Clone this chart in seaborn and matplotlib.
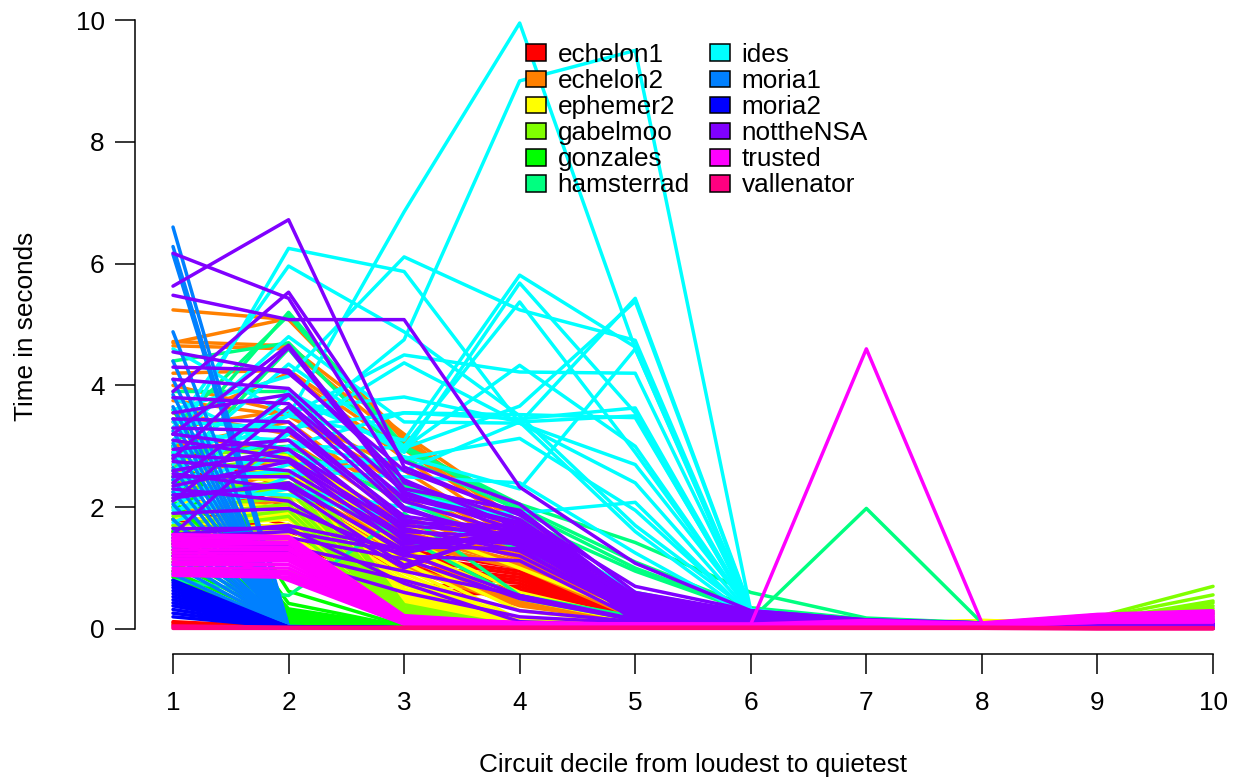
import pandas as pd
import matplotlib
matplotlib.use('Agg')
import matplotlib.pyplot as plt
from matplotlib.patches import Patch
import seaborn as sns

# Time per circuit decile, one row per relay
deciles = [1, 2, 3, 4, 5, 6, 7, 8, 9, 10]

echelon1 = [
    [0.12, 0.03, 0.02, 0.02, 0.02, 0.02, 0.02, 0.02, 0.02, 0.02],
    [0.10, 0.03, 0.02, 0.02, 0.02, 0.02, 0.02, 0.02, 0.02, 0.02],
    [0.07, 0.02, 0.02, 0.02, 0.02, 0.02, 0.02, 0.02, 0.02, 0.02],
    [3.0, 2.3, 1.3, 1.0, 0.2, 0.1, 0.06, 0.05, 0.05, 0.05],
    [2.7, 2.0, 1.2, 0.95, 0.16, 0.08, 0.06, 0.05, 0.05, 0.05],
    [2.5, 1.9, 1.15, 0.9, 0.14, 0.08, 0.05, 0.05, 0.05, 0.05],
    [2.2, 1.7, 1.05, 0.85, 0.12, 0.07, 0.05, 0.05, 0.05, 0.05],
    [2.0, 1.6, 1.0, 0.8, 0.12, 0.07, 0.05, 0.05, 0.05, 0.05],
    [1.8, 1.5, 0.95, 0.75, 0.1, 0.06, 0.05, 0.05, 0.05, 0.05],
    [1.6, 1.4, 0.72, 0.7, 0.1, 0.06, 0.05, 0.05, 0.05, 0.05],
    [1.4, 1.2, 0.62, 0.65, 0.1, 0.06, 0.05, 0.04, 0.04, 0.04],
    [1.9, 1.3, 0.55, 0.6, 0.09, 0.05, 0.04, 0.04, 0.04, 0.04],
]
echelon2 = [
    [5.24, 5.08, 3.15, 1.75, 0.5, 0.25, 0.16, 0.1, 0.1, 0.1],
    [4.72, 4.65, 3.2, 1.9, 0.45, 0.22, 0.15, 0.1, 0.1, 0.1],
    [4.7, 5.1, 3.1, 1.7, 0.42, 0.2, 0.14, 0.1, 0.1, 0.1],
    [4.65, 4.6, 3.05, 1.6, 0.4, 0.2, 0.13, 0.09, 0.1, 0.1],
    [4.2, 4.25, 2.95, 1.65, 0.38, 0.18, 0.12, 0.09, 0.09, 0.09],
    [3.4, 4.2, 2.8, 1.5, 0.35, 0.18, 0.12, 0.09, 0.09, 0.09],
    [4.0, 3.55, 2.6, 1.42, 0.33, 0.17, 0.11, 0.08, 0.09, 0.09],
    [3.75, 3.5, 2.4, 1.38, 0.3, 0.16, 0.1, 0.08, 0.08, 0.08],
    [3.3, 3.6, 2.3, 1.34, 0.3, 0.15, 0.1, 0.08, 0.08, 0.08],
    [3.55, 3.2, 2.15, 1.3, 0.28, 0.15, 0.1, 0.08, 0.08, 0.08],
    [3.0, 3.4, 2.0, 1.25, 0.26, 0.14, 0.09, 0.07, 0.08, 0.08],
    [2.9, 3.1, 1.85, 1.2, 0.25, 0.13, 0.09, 0.07, 0.07, 0.07],
    [3.2, 2.9, 1.75, 1.15, 0.24, 0.13, 0.09, 0.07, 0.07, 0.07],
    [2.7, 2.85, 1.6, 1.1, 0.22, 0.12, 0.08, 0.07, 0.07, 0.07],
    [2.6, 2.75, 1.55, 1.05, 0.2, 0.12, 0.08, 0.06, 0.07, 0.07],
    [2.4, 2.6, 1.45, 1.02, 0.2, 0.11, 0.08, 0.06, 0.06, 0.06],
    [2.8, 2.5, 1.4, 1.0, 0.18, 0.11, 0.07, 0.06, 0.06, 0.06],
    [2.3, 2.4, 1.3, 0.55, 0.18, 0.1, 0.07, 0.06, 0.06, 0.06],
    [2.1, 2.6, 1.25, 0.5, 0.16, 0.1, 0.07, 0.05, 0.06, 0.06],
    [2.5, 2.3, 1.15, 0.46, 0.15, 0.1, 0.06, 0.05, 0.05, 0.05],
    [1.9, 2.2, 1.05, 0.42, 0.14, 0.09, 0.06, 0.05, 0.05, 0.05],
    [2.0, 2.1, 1.0, 0.38, 0.12, 0.08, 0.06, 0.05, 0.05, 0.05],
]
ephemer2 = [
    [3.1, 2.85, 1.7, 1.0, 0.25, 0.1, 0.08, 0.14, 0.1, 0.1],
    [2.95, 2.7, 1.5, 0.6, 0.16, 0.09, 0.08, 0.14, 0.1, 0.1],
    [2.8, 2.55, 1.35, 0.5, 0.12, 0.08, 0.07, 0.13, 0.1, 0.1],
    [2.65, 2.4, 1.2, 0.3, 0.1, 0.08, 0.07, 0.13, 0.09, 0.09],
    [2.5, 2.3, 1.1, 0.15, 0.08, 0.07, 0.06, 0.12, 0.09, 0.09],
    [2.4, 2.2, 1.0, 0.1, 0.07, 0.06, 0.06, 0.12, 0.09, 0.09],
    [2.25, 2.1, 0.92, 0.08, 0.06, 0.06, 0.06, 0.11, 0.08, 0.08],
    [2.1, 2.0, 0.85, 0.07, 0.05, 0.05, 0.05, 0.1, 0.08, 0.08],
    [2.0, 1.95, 0.78, 0.06, 0.05, 0.05, 0.05, 0.08, 0.07, 0.07],
    [1.9, 1.9, 0.72, 0.06, 0.05, 0.05, 0.05, 0.07, 0.07, 0.07],
    [1.8, 1.85, 0.66, 0.05, 0.04, 0.04, 0.04, 0.06, 0.06, 0.06],
    [1.7, 1.8, 0.6, 0.05, 0.04, 0.04, 0.04, 0.06, 0.06, 0.06],
    [1.6, 1.72, 0.55, 0.05, 0.04, 0.04, 0.04, 0.05, 0.05, 0.05],
    [1.5, 1.65, 0.5, 0.04, 0.04, 0.04, 0.04, 0.05, 0.05, 0.05],
    [1.4, 1.55, 0.45, 0.04, 0.03, 0.03, 0.03, 0.05, 0.05, 0.05],
    [1.35, 1.45, 0.4, 0.04, 0.03, 0.03, 0.03, 0.04, 0.04, 0.04],
    [1.3, 1.35, 0.35, 0.04, 0.03, 0.03, 0.03, 0.04, 0.04, 0.04],
    [1.25, 1.3, 0.3, 0.03, 0.03, 0.03, 0.03, 0.04, 0.04, 0.04],
    [1.2, 1.25, 0.25, 0.03, 0.03, 0.03, 0.03, 0.03, 0.03, 0.03],
    [1.15, 1.2, 0.2, 0.03, 0.03, 0.03, 0.03, 0.03, 0.03, 0.03],
]
gabelmoo = [
    [2.9, 2.9, 0.4, 0.03, 0.03, 0.03, 0.03, 0.1, 0.2, 0.7],
    [2.6, 2.8, 0.35, 0.03, 0.03, 0.03, 0.03, 0.09, 0.18, 0.56],
    [2.45, 2.55, 0.32, 0.03, 0.03, 0.03, 0.03, 0.08, 0.14, 0.46],
    [2.3, 2.4, 0.3, 0.03, 0.03, 0.03, 0.03, 0.07, 0.12, 0.43],
    [2.15, 2.3, 0.28, 0.03, 0.03, 0.03, 0.03, 0.06, 0.1, 0.38],
    [2.0, 2.15, 0.25, 0.03, 0.03, 0.03, 0.03, 0.06, 0.1, 0.34],
    [1.85, 2.05, 0.22, 0.03, 0.03, 0.03, 0.03, 0.05, 0.09, 0.3],
    [1.7, 1.95, 0.2, 0.03, 0.03, 0.03, 0.03, 0.05, 0.08, 0.26],
    [1.6, 1.85, 0.18, 0.03, 0.03, 0.03, 0.03, 0.05, 0.08, 0.24],
    [1.45, 1.7, 0.16, 0.03, 0.03, 0.03, 0.03, 0.04, 0.07, 0.2],
    [1.3, 1.5, 0.14, 0.03, 0.03, 0.03, 0.03, 0.04, 0.06, 0.16],
    [1.2, 1.3, 0.12, 0.03, 0.03, 0.03, 0.03, 0.04, 0.05, 0.12],
    [1.1, 1.15, 0.1, 0.03, 0.03, 0.03, 0.03, 0.03, 0.04, 0.08],
    [0.95, 0.95, 0.08, 0.03, 0.03, 0.03, 0.03, 0.03, 0.03, 0.05],
]
gonzales = [
    [3.6, 0.62, 0.05, 0.02, 0.02, 0.02, 0.02, 0.02, 0.02, 0.02],
    [3.0, 0.42, 0.04, 0.02, 0.02, 0.02, 0.02, 0.02, 0.02, 0.02],
    [2.5, 0.33, 0.04, 0.02, 0.02, 0.02, 0.02, 0.02, 0.02, 0.02],
    [2.1, 0.3, 0.04, 0.02, 0.02, 0.02, 0.02, 0.02, 0.02, 0.02],
    [1.8, 0.26, 0.03, 0.02, 0.02, 0.02, 0.02, 0.02, 0.02, 0.02],
    [1.6, 0.22, 0.03, 0.02, 0.02, 0.02, 0.02, 0.02, 0.02, 0.02],
    [1.4, 0.19, 0.03, 0.02, 0.02, 0.02, 0.02, 0.02, 0.02, 0.02],
    [1.25, 0.16, 0.03, 0.02, 0.02, 0.02, 0.02, 0.02, 0.02, 0.02],
    [1.1, 0.13, 0.03, 0.02, 0.02, 0.02, 0.02, 0.02, 0.02, 0.02],
    [0.95, 0.1, 0.03, 0.02, 0.02, 0.02, 0.02, 0.02, 0.02, 0.02],
    [0.85, 0.07, 0.02, 0.02, 0.02, 0.02, 0.02, 0.02, 0.02, 0.02],
    [0.8, 0.05, 0.02, 0.02, 0.02, 0.02, 0.02, 0.02, 0.02, 0.02],
]
hamsterrad = [
    [3.0, 5.2, 3.0, 2.05, 1.42, 0.6, 0.18, 0.1, 0.1, 0.1],
    [3.3, 5.15, 2.95, 2.0, 1.1, 0.35, 0.16, 0.1, 0.09, 0.09],
    [4.4, 4.7, 2.8, 1.95, 1.0, 0.3, 0.14, 0.1, 0.08, 0.08],
    [2.6, 4.6, 2.35, 1.8, 0.95, 0.28, 0.12, 0.09, 0.08, 0.08],
    [3.9, 3.9, 2.3, 1.75, 0.6, 0.25, 0.12, 0.08, 0.07, 0.07],
    [2.9, 3.0, 2.1, 1.3, 0.55, 0.2, 0.1, 0.08, 0.06, 0.06],
    [0.8, 0.55, 1.9, 0.55, 0.2, 0.15, 1.98, 0.1, 0.06, 0.06],
    [2.2, 2.4, 1.5, 0.5, 0.15, 0.12, 0.1, 0.07, 0.06, 0.06],
]
ides = [
    [2.9, 3.5, 6.85, 9.95, 4.6, 0.3, 0.1, 0.08, 0.08, 0.08],
    [2.5, 3.2, 4.75, 9.0, 9.5, 0.3, 0.1, 0.08, 0.08, 0.08],
    [3.0, 6.25, 5.87, 3.38, 2.7, 0.3, 0.1, 0.08, 0.08, 0.08],
    [3.3, 5.96, 4.88, 3.5, 1.7, 0.28, 0.1, 0.08, 0.08, 0.08],
    [3.6, 4.15, 6.11, 5.24, 4.74, 0.3, 0.1, 0.08, 0.08, 0.08],
    [4.6, 3.5, 3.1, 5.81, 4.63, 0.3, 0.1, 0.08, 0.08, 0.08],
    [2.2, 3.9, 2.9, 5.68, 3.55, 0.28, 0.1, 0.08, 0.08, 0.08],
    [2.7, 4.35, 3.0, 5.37, 2.9, 0.27, 0.1, 0.08, 0.07, 0.07],
    [3.1, 4.8, 3.4, 3.38, 5.43, 0.32, 0.1, 0.08, 0.07, 0.07],
    [2.4, 3.8, 2.97, 3.66, 5.38, 0.3, 0.1, 0.08, 0.07, 0.07],
    [2.6, 3.5, 4.5, 4.22, 4.2, 0.28, 0.1, 0.07, 0.07, 0.07],
    [2.0, 3.2, 4.37, 3.38, 2.4, 0.25, 0.09, 0.07, 0.07, 0.07],
    [2.3, 3.0, 2.97, 4.33, 3.0, 0.27, 0.09, 0.07, 0.07, 0.07],
    [1.9, 3.0, 3.55, 3.52, 3.47, 0.28, 0.09, 0.07, 0.06, 0.06],
    [3.4, 3.3, 3.55, 3.45, 3.63, 0.28, 0.09, 0.07, 0.06, 0.06],
    [2.8, 3.6, 3.81, 3.4, 3.5, 0.26, 0.09, 0.07, 0.06, 0.06],
    [2.1, 2.7, 2.8, 3.13, 1.95, 0.24, 0.08, 0.06, 0.06, 0.06],
    [1.75, 2.5, 2.83, 2.3, 4.6, 0.26, 0.08, 0.06, 0.06, 0.06],
    [1.95, 2.3, 2.0, 1.9, 2.08, 0.22, 0.08, 0.06, 0.05, 0.05],
    [3.2, 3.1, 2.6, 3.4, 1.6, 0.2, 0.08, 0.06, 0.05, 0.05],
    [2.45, 2.6, 2.5, 2.4, 1.25, 0.2, 0.07, 0.06, 0.05, 0.05],
    [3.8, 2.9, 2.25, 1.75, 0.6, 0.16, 0.07, 0.05, 0.05, 0.05],
    [2.25, 2.2, 1.8, 1.4, 0.55, 0.14, 0.07, 0.05, 0.05, 0.05],
]
moria1 = [
    [6.6, 0.03, 0.02, 0.02, 0.02, 0.02, 0.02, 0.02, 0.02, 0.02],
    [6.28, 0.03, 0.02, 0.02, 0.02, 0.02, 0.02, 0.02, 0.02, 0.02],
    [6.15, 0.03, 0.02, 0.02, 0.02, 0.02, 0.02, 0.02, 0.02, 0.02],
    [4.88, 0.03, 0.02, 0.02, 0.02, 0.02, 0.02, 0.02, 0.02, 0.02],
    [4.4, 0.03, 0.02, 0.02, 0.02, 0.02, 0.02, 0.02, 0.02, 0.02],
    [4.1, 0.04, 0.02, 0.02, 0.02, 0.02, 0.02, 0.02, 0.02, 0.02],
    [3.85, 0.03, 0.02, 0.02, 0.02, 0.02, 0.02, 0.02, 0.02, 0.02],
    [3.65, 0.03, 0.02, 0.02, 0.02, 0.02, 0.02, 0.02, 0.02, 0.02],
    [3.45, 0.03, 0.02, 0.02, 0.02, 0.02, 0.02, 0.02, 0.02, 0.02],
    [3.25, 0.03, 0.02, 0.02, 0.02, 0.02, 0.02, 0.02, 0.02, 0.02],
    [3.05, 0.03, 0.02, 0.02, 0.02, 0.02, 0.02, 0.02, 0.02, 0.02],
    [2.85, 0.04, 0.02, 0.02, 0.02, 0.02, 0.02, 0.02, 0.02, 0.02],
    [2.65, 0.03, 0.02, 0.02, 0.02, 0.02, 0.02, 0.02, 0.02, 0.02],
    [2.45, 0.04, 0.02, 0.02, 0.02, 0.02, 0.02, 0.02, 0.02, 0.02],
    [2.25, 0.03, 0.02, 0.02, 0.02, 0.02, 0.02, 0.02, 0.02, 0.02],
    [2.05, 0.03, 0.02, 0.02, 0.02, 0.02, 0.02, 0.02, 0.02, 0.02],
    [1.8, 0.03, 0.02, 0.02, 0.02, 0.02, 0.02, 0.02, 0.02, 0.02],
    [1.65, 0.03, 0.02, 0.02, 0.02, 0.02, 0.02, 0.02, 0.02, 0.02],
    [1.5, 0.03, 0.02, 0.02, 0.02, 0.02, 0.02, 0.02, 0.02, 0.02],
    [1.35, 0.03, 0.02, 0.02, 0.02, 0.02, 0.02, 0.02, 0.02, 0.02],
    [1.2, 0.03, 0.02, 0.02, 0.02, 0.02, 0.02, 0.02, 0.02, 0.02],
    [1.05, 0.03, 0.02, 0.02, 0.02, 0.02, 0.02, 0.02, 0.02, 0.02],
    [0.9, 0.03, 0.02, 0.02, 0.02, 0.02, 0.02, 0.02, 0.02, 0.02],
]
moria2 = [
    [0.8, 0.03, 0.02, 0.02, 0.02, 0.02, 0.02, 0.02, 0.02, 0.02],
    [0.76, 0.03, 0.02, 0.02, 0.02, 0.02, 0.02, 0.02, 0.02, 0.02],
    [0.72, 0.03, 0.02, 0.02, 0.02, 0.02, 0.02, 0.02, 0.02, 0.02],
    [0.68, 0.03, 0.02, 0.02, 0.02, 0.02, 0.02, 0.02, 0.02, 0.02],
    [0.63, 0.03, 0.02, 0.02, 0.02, 0.02, 0.02, 0.02, 0.02, 0.02],
    [0.58, 0.03, 0.02, 0.02, 0.02, 0.02, 0.02, 0.02, 0.02, 0.02],
    [0.53, 0.03, 0.02, 0.02, 0.02, 0.02, 0.02, 0.02, 0.02, 0.02],
    [0.48, 0.03, 0.02, 0.02, 0.02, 0.02, 0.02, 0.02, 0.02, 0.02],
    [0.43, 0.03, 0.02, 0.02, 0.02, 0.02, 0.02, 0.02, 0.02, 0.02],
    [0.38, 0.03, 0.02, 0.02, 0.02, 0.02, 0.02, 0.02, 0.02, 0.02],
    [0.32, 0.03, 0.02, 0.02, 0.02, 0.02, 0.02, 0.02, 0.02, 0.02],
    [0.26, 0.03, 0.02, 0.02, 0.02, 0.02, 0.02, 0.02, 0.02, 0.02],
    [0.2, 0.03, 0.02, 0.02, 0.02, 0.02, 0.02, 0.02, 0.02, 0.02],
]
nottheNSA = [
    [5.63, 6.72, 2.66, 1.87, 0.7, 0.3, 0.15, 0.1, 0.1, 0.08],
    [6.17, 5.43, 2.4, 1.8, 0.55, 0.28, 0.14, 0.1, 0.1, 0.08],
    [5.48, 5.08, 5.08, 2.33, 1.08, 0.3, 0.15, 0.1, 0.1, 0.08],
    [3.9, 5.53, 2.75, 2.05, 0.6, 0.27, 0.14, 0.1, 0.09, 0.08],
    [3.2, 4.66, 2.3, 1.95, 0.5, 0.25, 0.13, 0.09, 0.09, 0.08],
    [2.8, 4.62, 2.2, 1.75, 0.5, 0.25, 0.13, 0.09, 0.09, 0.08],
    [4.55, 4.2, 2.6, 1.9, 0.48, 0.24, 0.12, 0.09, 0.09, 0.08],
    [4.3, 4.25, 2.45, 1.65, 0.46, 0.24, 0.12, 0.09, 0.08, 0.07],
    [4.1, 3.95, 2.25, 1.6, 0.45, 0.23, 0.12, 0.09, 0.08, 0.07],
    [3.8, 3.7, 2.15, 1.72, 0.42, 0.22, 0.12, 0.08, 0.08, 0.07],
    [3.55, 3.85, 2.1, 1.55, 0.4, 0.22, 0.11, 0.08, 0.08, 0.07],
    [2.4, 3.85, 2.0, 1.36, 0.38, 0.22, 0.11, 0.08, 0.08, 0.07],
    [2.1, 3.65, 1.95, 1.48, 0.36, 0.21, 0.11, 0.08, 0.08, 0.07],
    [1.55, 3.3, 1.85, 1.6, 0.34, 0.2, 0.1, 0.08, 0.07, 0.07],
    [3.45, 3.4, 1.8, 1.45, 0.32, 0.2, 0.1, 0.08, 0.07, 0.07],
    [3.3, 3.25, 1.75, 1.68, 0.3, 0.19, 0.1, 0.07, 0.07, 0.07],
    [3.2, 2.95, 1.7, 1.55, 0.3, 0.19, 0.1, 0.07, 0.07, 0.07],
    [3.1, 2.8, 1.65, 1.28, 0.28, 0.18, 0.1, 0.07, 0.07, 0.06],
    [2.95, 3.1, 1.6, 1.5, 0.28, 0.18, 0.1, 0.07, 0.07, 0.06],
    [2.85, 2.75, 1.55, 1.2, 0.26, 0.17, 0.09, 0.07, 0.07, 0.06],
    [2.75, 2.6, 1.5, 1.4, 0.25, 0.17, 0.09, 0.07, 0.06, 0.06],
    [2.6, 2.95, 1.45, 1.45, 0.24, 0.16, 0.09, 0.07, 0.06, 0.06],
    [2.5, 2.5, 1.4, 1.52, 0.22, 0.16, 0.09, 0.06, 0.06, 0.06],
    [2.35, 2.75, 1.35, 1.32, 0.22, 0.15, 0.09, 0.06, 0.06, 0.06],
    [2.2, 2.35, 1.3, 1.78, 0.2, 0.15, 0.08, 0.06, 0.06, 0.06],
    [2.15, 2.4, 1.25, 1.6, 0.2, 0.14, 0.08, 0.06, 0.06, 0.05],
    [1.9, 1.98, 1.2, 1.12, 0.18, 0.14, 0.08, 0.06, 0.05, 0.05],
    [1.55, 1.7, 1.3, 1.62, 0.18, 0.13, 0.08, 0.06, 0.05, 0.05],
    [1.5, 1.6, 1.25, 0.55, 0.16, 0.13, 0.08, 0.05, 0.05, 0.05],
    [1.45, 1.5, 1.15, 0.5, 0.15, 0.12, 0.07, 0.05, 0.05, 0.05],
    [1.4, 1.35, 0.95, 0.55, 0.14, 0.12, 0.07, 0.05, 0.05, 0.05],
    [1.3, 1.25, 0.8, 0.3, 0.12, 0.11, 0.07, 0.05, 0.05, 0.05],
    [1.2, 1.15, 0.6, 0.2, 0.1, 0.1, 0.07, 0.05, 0.05, 0.05],
    [2.55, 2.3, 1.05, 1.65, 0.14, 0.1, 0.07, 0.05, 0.05, 0.05],
    [2.3, 2.1, 1.0, 1.7, 0.1, 0.1, 0.06, 0.05, 0.05, 0.05],
    [1.65, 1.65, 0.75, 0.12, 0.06, 0.07, 0.05, 0.04, 0.04, 0.04],
]
trusted = [
    [1.55, 1.52, 0.22, 0.1, 0.08, 0.08, 4.6, 0.1, 0.24, 0.3],
    [1.5, 1.48, 0.2, 0.1, 0.08, 0.08, 0.14, 0.09, 0.23, 0.28],
    [1.46, 1.42, 0.2, 0.1, 0.08, 0.07, 0.12, 0.09, 0.22, 0.26],
    [1.4, 1.4, 0.18, 0.09, 0.08, 0.07, 0.11, 0.08, 0.21, 0.24],
    [1.36, 1.34, 0.18, 0.09, 0.07, 0.07, 0.1, 0.08, 0.2, 0.22],
    [1.3, 1.3, 0.16, 0.09, 0.07, 0.07, 0.09, 0.08, 0.18, 0.2],
    [1.25, 1.24, 0.16, 0.08, 0.07, 0.06, 0.08, 0.07, 0.16, 0.18],
    [1.2, 1.2, 0.14, 0.08, 0.07, 0.06, 0.08, 0.07, 0.15, 0.16],
    [1.15, 1.16, 0.14, 0.08, 0.06, 0.06, 0.07, 0.07, 0.14, 0.15],
    [1.1, 1.12, 0.13, 0.08, 0.06, 0.06, 0.07, 0.07, 0.13, 0.14],
    [1.06, 1.06, 0.12, 0.07, 0.06, 0.05, 0.07, 0.06, 0.12, 0.13],
    [1.0, 1.0, 0.12, 0.07, 0.06, 0.05, 0.06, 0.06, 0.12, 0.13],
    [0.96, 0.94, 0.1, 0.07, 0.05, 0.05, 0.06, 0.06, 0.12, 0.12],
    [0.92, 0.9, 0.1, 0.06, 0.05, 0.05, 0.06, 0.06, 0.12, 0.12],
    [0.88, 0.85, 0.09, 0.06, 0.05, 0.05, 0.05, 0.05, 0.11, 0.12],
    [1.44, 0.8, 0.08, 0.05, 0.05, 0.05, 0.05, 0.05, 0.11, 0.12],
]
vallenator = [
    [0.05, 0.03, 0.03, 0.03, 0.03, 0.03, 0.03, 0.03, 0.02, 0.02],
    [0.03, 0.02, 0.02, 0.02, 0.02, 0.02, 0.02, 0.02, 0.01, 0.01],
    [0.01, 0.01, 0.01, 0.01, 0.01, 0.01, 0.01, 0.01, 0.0, 0.0],
]

relays = ['echelon1', 'echelon2', 'ephemer2', 'gabelmoo', 'gonzales', 'hamsterrad',
          'ides', 'moria1', 'moria2', 'nottheNSA', 'trusted', 'vallenator']
series = [echelon1, echelon2, ephemer2, gabelmoo, gonzales, hamsterrad,
          ides, moria1, moria2, nottheNSA, trusted, vallenator]
colors = ['#FF0000', '#FF8000', '#FFFF00', '#80FF00', '#00FF00', '#00FF80',
          '#00FFFF', '#0080FF', '#0000FF', '#8000FF', '#FF00FF', '#FF0080']

# Long form table, one row per point
rows = []
line_id = 0
for relay, lines in zip(relays, series):
    for values in lines:
        line_id += 1
        for decile, seconds in zip(deciles, values):
            rows.append((relay, line_id, decile, seconds))
df = pd.DataFrame(rows, columns=['relay', 'line', 'decile', 'seconds'])

sns.set_style('ticks', {'text.color': 'black', 'axes.labelcolor': 'black',
                        'xtick.color': 'black', 'ytick.color': 'black',
                        'axes.edgecolor': 'black'})
plt.rcParams['font.family'] = ['Liberation Sans', 'DejaVu Sans']

W, H = 1244, 782
fig = plt.figure(figsize=(W / 100, H / 100), dpi=100)
# axes box in pixels: left 135, right 1244, top 0, bottom 654
ax = fig.add_axes([135 / W, (H - 654) / H, (W - 135) / W, 654 / H])

sns.lineplot(data=df, x='decile', y='seconds', hue='relay', hue_order=relays,
             palette=dict(zip(relays, colors)), units='line', estimator=None,
             linewidth=2.5, legend=False, ax=ax, zorder=3)

ax.set_xlim(1 - 38 / 115.56, 1 + (1244 - 173) / 115.56)
ax.set_ylim(-25 / 60.9, 629 / 60.9)

sns.despine(ax=ax)
ax.spines['left'].set_bounds(0, 10)
ax.spines['bottom'].set_bounds(1, 10)
ax.spines['left'].set_linewidth(1.1)
ax.spines['bottom'].set_linewidth(1.1)
ax.set_xticks(deciles)
ax.set_yticks([0, 2, 4, 6, 8, 10])
ax.tick_params(axis='x', length=14.4, width=1.1, pad=12, labelsize=18.8)
ax.tick_params(axis='y', length=14.4, width=1.1, pad=7.5, labelsize=18.8)
ax.set_xlabel('Circuit decile from loudest to quietest', fontsize=18.8)
ax.set_ylabel('Time in seconds', fontsize=18.8)
ax.xaxis.set_label_coords((693 - 135) / (W - 135), -0.152)
ax.yaxis.set_label_coords((38 - 135) / (W - 135), 1 - 326 / 654)

handles = [Patch(facecolor=c, edgecolor='black', linewidth=1.1, label=r)
           for r, c in zip(relays, colors)]
ax.legend(handles=handles, ncol=2, frameon=False, fontsize=18.8,
          loc='upper left', bbox_to_anchor=(526 / W, 1 - 43 / H),
          bbox_transform=fig.transFigure, borderaxespad=0, borderpad=0,
          handlelength=0.75, handleheight=0.61, handletextpad=0.46,
          labelspacing=0.08, columnspacing=0.78)

fig.savefig('out.png', dpi=100)
